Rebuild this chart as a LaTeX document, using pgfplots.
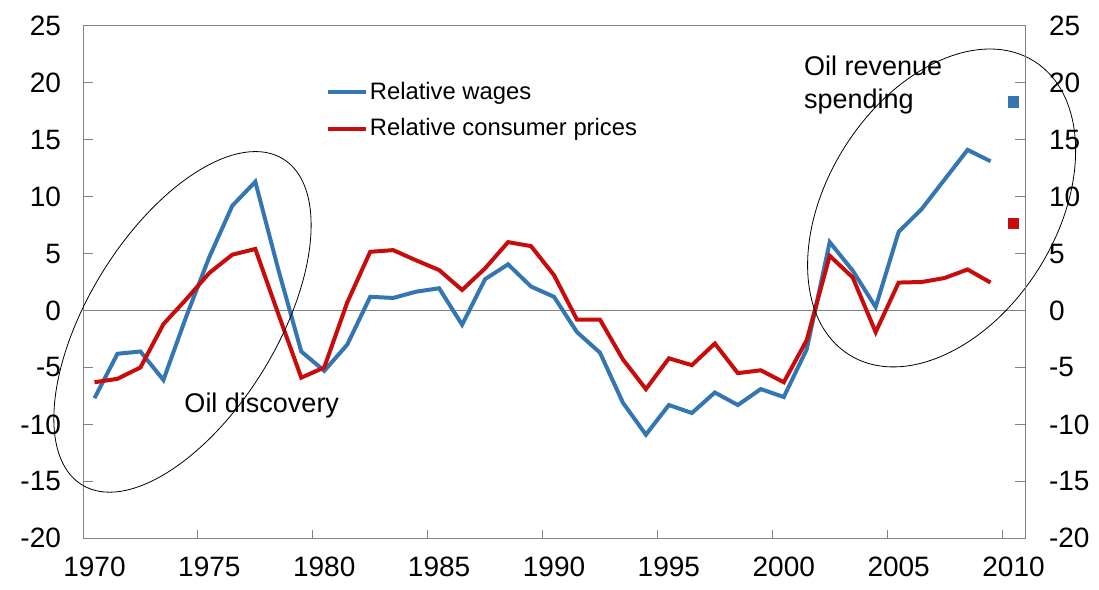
\documentclass[border=0pt]{standalone}
\usepackage{pgfplots}
\pgfplotsset{compat=1.18}
\usepackage{pgfplotstable}
\usepackage{fontspec}
\setmainfont{Liberation Sans}
\definecolor{wblue}{RGB}{52,118,178}
\definecolor{pred}{RGB}{200,12,12}
\definecolor{frame}{RGB}{130,130,130}

\pgfplotstableread{
year wages prices
1970 -7.7 -6.3
1971 -3.8 -6.0
1972 -3.6 -5.0
1973 -6.1 -1.2
1974 -0.5 1.0
1975 4.7 3.3
1976 9.2 4.9
1977 11.3 5.4
1978 3.6 -0.3
1979 -3.6 -5.9
1980 -5.3 -5.0
1981 -3.0 0.7
1982 1.2 5.15
1983 1.1 5.3
1984 1.65 4.4
1985 1.95 3.55
1986 -1.25 1.8
1987 2.75 3.7
1988 4.05 6.0
1989 2.1 5.65
1990 1.2 3.1
1991 -1.9 -0.8
1992 -3.7 -0.8
1993 -8.1 -4.3
1994 -10.9 -6.9
1995 -8.3 -4.2
1996 -9.0 -4.8
1997 -7.2 -2.9
1998 -8.3 -5.5
1999 -6.9 -5.25
2000 -7.6 -6.3
2001 -3.4 -2.6
2002 6.0 4.8
2003 3.5 2.9
2004 0.3 -1.9
2005 6.9 2.45
2006 8.9 2.5
2007 11.5 2.85
2008 14.1 3.6
2009 13.1 2.45
}\datatable

\pgfplotstableread{
year wages prices
2010 18.3 7.65
}\lasttable

\begin{document}
\begin{tikzpicture}
\pgfplotsset{
  base/.style={
    width=471pt, height=256.3pt, scale only axis,
    xmin=1969.5, xmax=2010.5, ymin=-20, ymax=25,
    ytick={-20,-15,...,25},
    axis line style={frame, line width=0.5pt},
    tick style={frame, line width=0.5pt},
    tick align=inside,
    major tick length=5pt,
    /pgf/number format/assume math mode=true,
    ticklabel style={font=\fontsize{14}{16}\selectfont},
  }
}
\begin{axis}[base,
  clip=false,
  xtick={1970,1975,...,2010},
  xticklabels={1970,1975,1980,1985,1990,1995,2000,2005,2010},
  major x tick style={draw=none},
  minor xtick={1974.5,1979.5,...,2009.5},
  minor x tick style={frame, line width=0.5pt},
  minor tick length=4pt,
  xtick pos=bottom,
  ytick pos=both,
  yticklabel pos=left,
  xticklabel style={yshift=-6pt},
  yticklabel style={xshift=-7.5pt},
  legend style={at={(0.251,0.902)}, anchor=north west, draw=none, fill=none,
    font=\fontsize{11.9}{13}\selectfont, row sep=6pt,
    nodes={inner sep=1pt}},
  legend cell align=left,
  legend image code/.code={\draw[#1, line width=2pt] (0pt,0pt) -- (19pt,0pt);},
]
\addplot[frame, line width=0.5pt, forget plot] coordinates {(1969.5,0) (2010.5,0)};
\addplot[wblue, line width=2pt] table[x=year, y=wages] {\datatable};
\addlegendentry{Relative wages}
\addplot[pred, line width=2pt] table[x=year, y=prices] {\datatable};
\addlegendentry{Relative consumer prices}
\addplot[only marks, mark=square*, mark size=2.6pt, wblue, forget plot] table[x=year, y=wages] {\lasttable};
\addplot[only marks, mark=square*, mark size=2.6pt, pred, forget plot] table[x=year, y=prices] {\lasttable};

\draw[black, line width=0.4pt, rotate around={58.3:(axis cs:1973.83,-1.0)}]
  (axis cs:1973.83,-1.0) ellipse [x radius=95.75pt, y radius=47.1pt];
\draw[black, line width=0.4pt, rotate around={57.7:(axis cs:2006.87,9.0)}]
  (axis cs:2006.87,9.0) ellipse [x radius=86.75pt, y radius=57.25pt];

\node[anchor=west, inner sep=0pt, font=\fontsize{13.5}{15}\selectfont] at (axis cs:1973.9,-8.3) {Oil discovery};
\node[anchor=north west, inner sep=0pt, align=left, font=\fontsize{13.5}{16.3}\selectfont] at (axis cs:2000.87,22.35) {Oil revenue\\spending};
\end{axis}
\begin{axis}[base,
  axis x line=none,
  ytick pos=right,
  yticklabel pos=right,
  major y tick style={draw=none},
  yticklabel style={xshift=8.5pt, anchor=west},
  axis y line*=right,
]
\addplot[draw=none] coordinates {(1970,0)};
\end{axis}
\pgfresetboundingbox
\path (current axis.south west) ++(-41.5pt,-25.35pt) coordinate (bl);
\path (current axis.north east) ++(37pt,12.85pt) coordinate (tr);
\path[use as bounding box] (bl) rectangle (tr);
\end{tikzpicture}
\end{document}
